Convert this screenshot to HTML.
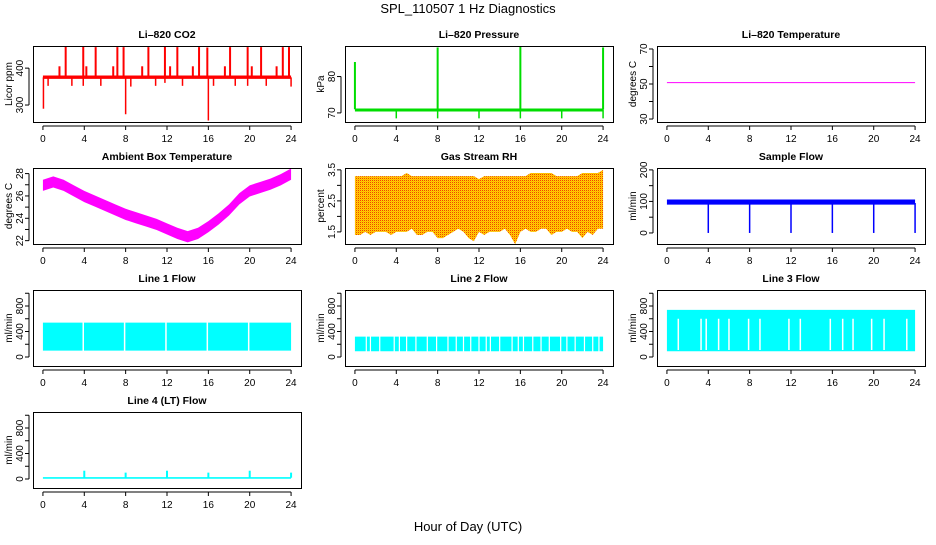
<!DOCTYPE html>
<html><head><meta charset="utf-8"><style>
body{margin:0;background:#fff;width:936px;height:540px;overflow:hidden}
svg text{font-family:"Liberation Sans",sans-serif}
</style></head><body>
<svg id="c" width="936" height="540" xmlns="http://www.w3.org/2000/svg">
<defs><pattern id="rhpat" width="2" height="2" patternUnits="userSpaceOnUse"><rect width="2" height="2" fill="#ffd400"/><rect width="1" height="1" fill="#f04000"/><rect x="1" y="1" width="1" height="1" fill="#ffb000"/></pattern></defs>
<text x="468" y="13" font-size="13" text-anchor="middle">SPL_110507  1 Hz Diagnostics</text>
<text x="468" y="531" font-size="13" text-anchor="middle">Hour of Day (UTC)</text>
</svg>
<script>
// ---- data ----
const xTicks=[0,4,8,12,16,20,24];
const co2Spikes=[2.2,3.9,5.1,7.2,7.8,10.2,11.8,13.0,15.1,15.9,18.1,19.8,21.1,23.2,23.8];
const co2SpikeVals=[458,460,457,457,457,457,458,457,457,456,457,457,457,457,457];
const co2Small=[1.6,4.2,6.8,9.6,12.3,14.5,17.6,20.2,22.6];
const co2SmallVals=[405,405,405,405,405,405,405,405,405];
const co2Dips=[0.05,0.5,2.8,3.9,5.6,8.0,8.5,10.9,11.8,13.5,16.0,16.5,18.6,19.8,21.6,24.0];
const co2DipVals=[290,352,352,352,352,275,350,352,360,352,258,352,352,352,352,350];
const presSpikes=[0.0,8.0,16.0,24.0];
const presSpikeVals=[84,88,88.5,88];
const presDips=[4,8,12,16,20,24];
const presDipVals=[68.5,68.5,68.5,68.5,68.5,68.5];
const ambHours=[0,1,2,3,4,5,6,7,8,9,10,11,12,13,14,15,16,17,18,19,20,21,22,23,24];
const ambTemp=[27.0,27.3,27.0,26.5,26.0,25.6,25.2,24.8,24.4,24.1,23.8,23.5,23.1,22.7,22.4,22.7,23.3,24.0,24.8,25.8,26.5,26.8,27.1,27.5,28.0];
const rhLow=[1.4,1.4,1.5,1.4,1.5,1.5,1.5,1.4,1.5,1.5,1.5,1.6,1.4,1.4,1.5,1.5,1.3,1.3,1.4,1.5,1.6,1.5,1.3,1.2,1.5,1.4,1.5,1.5,1.5,1.6,1.4,1.1,1.5,1.6,1.5,1.5,1.6,1.6,1.4,1.5,1.5,1.6,1.5,1.5,1.3,1.5,1.4,1.6,1.6];
const rhHigh=[3.3,3.3,3.3,3.3,3.3,3.3,3.3,3.3,3.3,3.3,3.4,3.3,3.3,3.3,3.3,3.3,3.3,3.3,3.3,3.3,3.3,3.3,3.3,3.3,3.2,3.3,3.3,3.3,3.3,3.3,3.3,3.3,3.3,3.3,3.4,3.4,3.4,3.4,3.4,3.3,3.3,3.3,3.3,3.3,3.4,3.4,3.4,3.4,3.5];
const flowDips=[4,8,12,16,20,24];
const flowDipVals=[0,0,0,0,0,0];
const line1Gaps=[3.9,7.9,11.9,15.9,19.9];
const line2Gaps=[1.1,1.5,2.4,3.8,4.3,5.0,5.9,7.0,7.9,9.0,9.8,10.5,11.2,12.0,12.7,13.1,14.0,15.2,15.8,16.3,17.2,18.0,18.8,19.9,20.5,21.3,22.2,23.0,23.6];
const line3Gaps=[1.1,3.3,3.8,5.0,6.0,7.9,9.0,11.8,12.9,15.8,17.0,18.0,19.8,21.0,23.2];
const line4Spikes=[4,8,12,16,20,24];
const line4SpikeVals=[130,100,130,100,130,100];
const tempLevel=[50.8];

// ---- layout ----
const svg=document.getElementById('c');
const NS='http://www.w3.org/2000/svg';
const colX=[33,345,657], rowY=[46,168,290,412], W=268, H=76;
function mk(tag,attrs,parent){const e=document.createElementNS(NS,tag);for(const k in attrs)e.setAttribute(k,attrs[k]);(parent||svg).appendChild(e);return e;}
function panel(name,title,ylab,col,row,ymin,ymax,ticks,labels){
  const g=mk('g',{});
  
  
  const x0=colX[col],y0=rowY[row];
  const inL=x0+W*0.04/1.08, inW=W/1.08;
  const sx=t=>inL+t/24*inW;
  const sy=v=>y0+H-(v-ymin)/(ymax-ymin)*H;
  const t=mk('text',{x:x0+W/2,y:y0-8,'font-size':10.5,'font-weight':'bold','text-anchor':'middle'},g);t.textContent=title;
  
  
  const yl=mk('text',{transform:`translate(${x0-21},${y0+H/2}) rotate(-90)`,'font-size':10,'text-anchor':'middle'},g);yl.textContent=ylab;
  
  
  const plot=mk('g',{},g);
  const clipId='clip-'+name;
  const cp=mk('clipPath',{id:clipId},g);mk('rect',{x:x0,y:y0,width:W,height:H},cp);
  plot.setAttribute('clip-path',`url(#${clipId})`);
  mk('line',{x1:sx(0),x2:sx(24),y1:y0+H+4,y2:y0+H+4,stroke:'#000'},g);
  xTicks.forEach(v=>{mk('line',{x1:sx(v),x2:sx(v),y1:y0+H+4,y2:y0+H+8,stroke:'#000'},g);
    const l=mk('text',{x:sx(v),y:y0+H+20,'font-size':10,'text-anchor':'middle'},g);l.textContent=v;
    
    });
  mk('line',{x1:x0-4,x2:x0-4,y1:sy(ticks[0]),y2:sy(ticks[ticks.length-1]),stroke:'#000'},g);
  ticks.forEach(v=>{mk('line',{x1:x0-4,x2:x0-8,y1:sy(v),y2:sy(v),stroke:'#000'},g);
    if(labels.includes(v)){const l=mk('text',{transform:`translate(${x0-10},${sy(v)}) rotate(-90)`,'font-size':10,'text-anchor':'middle'},g);l.textContent=v;
    
    }});
  mk('rect',{x:x0+0.5,y:y0+0.5,width:W,height:H,fill:'none',stroke:'#000'},g);
  return {sx,sy,plot};
}
function band(p,ts,lo,hi,fill){
  let d='M'+ts.map((t,i)=>p.sx(t)+','+p.sy(hi[i])).join('L');
  for(let i=ts.length-1;i>=0;i--)d+='L'+p.sx(ts[i])+','+p.sy(lo[i]);
  const e=mk('path',{d:d+'Z',fill:fill},p.plot);return e;
}
function vlines(p,ts,from,to,color,w){
  ts.forEach((t,i)=>{const e=mk('line',{x1:p.sx(t),x2:p.sx(t),y1:p.sy(Array.isArray(from)?from[i]:from),y2:p.sy(Array.isArray(to)?to[i]:to),stroke:color,'stroke-width':w||1.5},p.plot);
  
  });
}
const full=[0,24];
let p=panel('co2','Li\u2013820 CO2','Licor ppm',0,0,254,460,[300,400],[300,400]);
band(p,full,[371,371],[380,380],'#ff0000');
vlines(p,co2Spikes,375,co2SpikeVals,'#ff0000',2);
vlines(p,co2Small,375,co2SmallVals,'#ff0000',2);
vlines(p,co2Dips,375,co2DipVals,'#ff0000',1.5);
p=panel('pressure','Li\u2013820 Pressure','kPa',1,0,67.5,88.4,[70,80],[70,80]);
band(p,full,[70.4,70.4],[71.2,71.2],'#00dd00');
vlines(p,presSpikes,71,presSpikeVals,'#00dd00',2);
vlines(p,presDips,71,presDipVals,'#00dd00',1.5);
p=panel('li820-temp','Li\u2013820 Temperature','degrees C',2,0,28.3,71.7,[30,40,50,60,70],[30,50,70]);
tempLevel.forEach(v=>{mk('line',{x1:p.sx(0),x2:p.sx(24),y1:p.sy(v),y2:p.sy(v),stroke:'#ff00ff'},p.plot);});
p=panel('ambient','Ambient Box Temperature','degrees C',0,1,21.7,28.5,[22,23,24,25,26,27,28],[22,24,26,28]);
band(p,ambHours,ambTemp.map(v=>v-0.55),ambTemp.map(v=>v+0.45),'#ff00ff');
p=panel('rh','Gas Stream RH','percent',1,1,1.11,3.56,[1.5,2,2.5,3,3.5],[1.5,2.5,3.5]);
const rhT=rhLow.map((v,i)=>i*0.5);
band(p,rhT,rhLow,rhHigh,'url(#rhpat)');
p=panel('sample-flow','Sample Flow','ml/min',2,1,-35,206,[0,50,100,150,200],[0,100,200]);
band(p,full,[90,90],[106,106],'#0000ff');
vlines(p,flowDips,95,flowDipVals,'#0000ff',1.5);
const lf=[0,200,400,600,800,1000],ll=[0,400,800];
p=panel('line1-flow','Line 1 Flow','ml/min',0,2,-141,1051,lf,ll);
band(p,full,[100,100],[540,540],'#00ffff');
vlines(p,line1Gaps,90,560,'#ffffff',1.5);
p=panel('line2-flow','Line 2 Flow','ml/min',1,2,-141,1051,lf,ll);
band(p,full,[90,90],[320,320],'#00ffff');
vlines(p,line2Gaps,80,330,'#ffffff',1.2);
p=panel('line3-flow','Line 3 Flow','ml/min',2,2,-141,1051,lf,ll);
band(p,full,[90,90],[740,740],'#00ffff');
vlines(p,line3Gaps,110,600,'#ffffff',1.5);
p=panel('line4-flow','Line 4 (LT) Flow','ml/min',0,3,-141,1051,lf,ll);
band(p,full,[5,5],[30,30],'#00ffff');
vlines(p,line4Spikes,20,line4SpikeVals,'#00ffff',2);
</script>
</body></html>
